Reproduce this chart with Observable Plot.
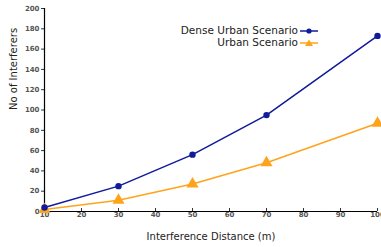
<!DOCTYPE html>
<html><head><meta charset="utf-8">
<script src="https://cdn.jsdelivr.net/npm/d3@7"></script>
<script src="https://cdn.jsdelivr.net/npm/@observablehq/plot@0.6"></script>
<style>
body{margin:0;background:#fff;font-family:"DejaVu Sans",sans-serif;}
#wrap{position:relative;width:381px;height:247px;}
.leg{position:absolute;right:63px;height:11px;line-height:11px;font-size:10.5px;color:#222;display:flex;align-items:center;gap:2px;white-space:nowrap;}
.leg svg{display:block;}
</style></head><body>
<div id="wrap"></div>
<script>
const distances = [10, 30, 50, 70, 100];
const denseUrban = [4, 25, 56, 95, 173];
const urban = [2, 11, 27, 48, 87];
const seriesNames = ["Dense Urban Scenario", "Urban Scenario"];
const xTicks = [10,20,30,40,50,60,70,80,90,100];
const yTicks = [0,20,40,60,80,100,120,140,160,180,200];
const blue = "#101a9a", orange = "#ffa31a";

const dense = distances.map((d,i)=>({x:d,y:denseUrban[i]}));
const urb = distances.map((d,i)=>({x:d,y:urban[i]}));

const chart = Plot.plot({
  width:381, height:247,
  marginLeft:44, marginRight:4, marginTop:8, marginBottom:36,
  style:{fontFamily:"DejaVu Sans, sans-serif", fontSize:"7px", color:"#333"},
  x:{domain:[10,100], ticks:xTicks, tickSize:3, label:null},
  y:{domain:[0,200], ticks:yTicks, tickSize:3, label:null},
  marks:[
    Plot.axisX({ticks:xTicks, tickSize:-3, tickPadding:4, fontSize:7, fontWeight:"bold", fill:"#555", label:null}),
    Plot.axisY({ticks:yTicks, tickSize:3, tickPadding:2, fontSize:7, fontWeight:"bold", fill:"#555", label:null}),
    Plot.ruleY([0],{stroke:"#000", strokeWidth:1.2}),
    Plot.ruleX([10],{stroke:"#000", strokeWidth:1.2}),
    Plot.line(urb,{x:"x",y:"y",stroke:orange,strokeWidth:1.5}),
    Plot.dot(urb,{x:"x",y:"y",symbol:"triangle",fill:orange,r:4.5}),
    Plot.line(dense,{x:"x",y:"y",stroke:blue,strokeWidth:1.5}),
    Plot.dot(dense,{x:"x",y:"y",fill:blue,r:3.2}),
    Plot.text(["Interference Distance (m)"],{frameAnchor:"bottom",dy:28,fontSize:10,fill:"#222"}),
    Plot.text(["No of Interferers"],{frameAnchor:"left",dx:-31,rotate:-90,fontSize:10,fill:"#222"})
  ]
});
const wrap = document.getElementById("wrap");
wrap.appendChild(chart);
const sw = (c, sym) => `<svg width="18" height="10"><line x1="0" y1="5" x2="18" y2="5" stroke="${c}" stroke-width="1.5"/>${sym==="dot"?`<circle cx="9" cy="5" r="2.6" fill="${c}"/>`:`<path d="M9,1.5 L13,8 L5,8Z" fill="${c}"/>`}</svg>`;
const l1 = document.createElement("div"); l1.className="leg"; l1.style.top="25px";
l1.innerHTML = `<span>${seriesNames[0]}</span>${sw(blue,"dot")}`;
const l2 = document.createElement("div"); l2.className="leg"; l2.style.top="37px";
l2.innerHTML = `<span>${seriesNames[1]}</span>${sw(orange,"tri")}`;
wrap.appendChild(l1); wrap.appendChild(l2);
</script></body></html>
